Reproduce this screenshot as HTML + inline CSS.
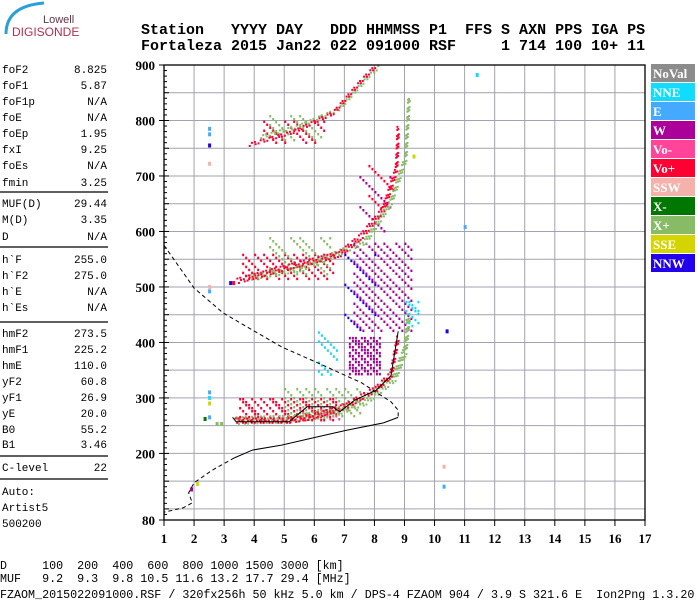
<!DOCTYPE html>
<html><head><meta charset="utf-8"><style>
html,body{margin:0;padding:0;background:#fff;}
svg{display:block;}
.mono{font-family:"Liberation Mono",monospace;}
.ser{font-family:"Liberation Serif",serif;font-weight:bold;}
</style></head><body>
<svg id="chart" width="700" height="600" viewBox="0 0 700 600" xmlns="http://www.w3.org/2000/svg">
<g>
<path d="M6 34 Q6 6 44 3" fill="none" stroke="#2a9fd8" stroke-width="3"/>
<text x="43" y="23" font-family="Liberation Sans,sans-serif" font-size="11" fill="#663344">Lowell</text>
<text x="12" y="36" font-family="Liberation Sans,sans-serif" font-size="12" fill="#b03050">DIGISONDE</text>
</g>
<g class="mono" font-size="15" font-weight="bold" fill="#000">
<text x="141" y="34" xml:space="preserve">Station   YYYY DAY   DDD HHMMSS P1  FFS S AXN PPS IGA PS</text>
<text x="141" y="50" xml:space="preserve">Fortaleza 2015 Jan22 022 091000 RSF     1 714 100 10+ 11</text>
</g>
<g id="panel" class="mono" font-size="11" fill="#000"></g>
<g id="plot"></g>
<g id="legend"></g>
<g class="mono" font-size="11.7" fill="#000">
<text x="0" y="569" xml:space="preserve">D     100  200  400  600  800 1000 1500 3000 [km]</text>
<text x="0" y="582" xml:space="preserve">MUF   9.2  9.3  9.8 10.5 11.6 13.2 17.7 29.4 [MHz]</text>
<text x="0" y="598" xml:space="preserve">FZAOM_2015022091000.RSF / 320fx256h 50 kHz 5.0 km / DPS-4 FZAOM 904 / 3.9 S 321.6 E  Ion2Png 1.3.20</text>
</g>
</svg>
<script>
const NS="http://www.w3.org/2000/svg";
// ---- data ----
const panelLabels=["foF2","foF1","foF1p","foE","foEp","fxI","foEs","fmin","MUF(D)","M(D)","D","h`F","h`F2","h`E","h`Es","hmF2","hmF1","hmE","yF2","yF1","yE","B0","B1","C-level"];
const panelValues=["8.825","5.87","N/A","N/A","1.95","9.25","N/A","3.25","29.44","3.35","N/A","255.0","275.0","N/A","N/A","273.5","225.2","110.0","60.8","26.9","20.0","55.2","3.46","22"];
const panelY=[69,85,101,117,133,149,165,182,203,219,236,259,275,291,307,333,349,365,381,397,413,429,444,467];
const xTicks=[1,2,3,4,5,6,7,8,9,10,11,12,13,14,15,16,17];
const yTickLabels=[80,200,300,400,500,600,700,800,900];
const legendNames=["NoVal","NNE","E","W","Vo-","Vo+","SSW","X-","X+","SSE","NNW"];
const legendColors=["#8c8c8c","#11dcff","#44aaff","#aa0099","#ff4499","#ff0033","#f5b2aa","#007700","#88bb66","#d4d400","#2200ee"];
const oTrace1=[[3.4,257],[5.16,257],[5.76,262],[6.61,275],[7.09,284],[7.58,300],[8.06,314],[8.55,340],[8.79,410]];
const xTrace1=[[3.46,255],[5.2,258],[6.6,268],[7.7,290],[8.67,332],[9.03,381],[9.15,446]];
const oTrace2=[[3.46,509],[5.28,536],[6.85,557],[7.58,590],[8.3,638],[8.73,710],[8.79,788]];
const xTrace2=[[3.9,515],[5.5,530],[6.61,555],[7.7,580],[8.55,651],[9.03,729],[9.15,842]];
const oTrace3=[[3.82,756],[5.28,779],[6.61,813],[7.58,873],[8.06,900]];
const xTrace3=[[4.2,770],[5.5,790],[6.8,820],[7.8,880],[8.2,900]];
const clusters=[
 [3.5,6.7,258,300,"Vo+",4],[5.0,7.5,265,318,"X+",3],[5.5,7.0,262,280,"Vo-",2],
 [7.0,8.0,420,560,"NNW",1],[7.15,8.18,345,410,"W",7],[7.3,9.27,420,580,"W",3],
 [6.12,6.73,340,420,"NNE",2],[9.03,9.52,430,475,"NNE",4],
 [3.6,6.6,512,560,"Vo+",3],[4.5,6.5,520,590,"X+",2],[4.3,6.3,760,800,"Vo+",2],[4.5,6.2,765,810,"X+",2],
 [7.5,8.5,600,700,"W",1],[7.8,8.6,640,720,"Vo+",1]
];
const isolated=[[2.5,775,"E"],[2.5,785,"E"],[2.5,755,"NNW"],[2.5,722,"SSW"],[2.5,492,"E"],[2.5,500,"SSW"],[2.5,300,"NNE"],[2.5,310,"E"],[2.5,290,"SSE"],[2.5,265,"E"],[2.35,262,"X-"],[2.75,253,"X+"],[2.9,253,"X+"],[11.4,882,"NNE"],[11.0,608,"E"],[10.4,420,"NNW"],[10.3,176,"SSW"],[10.3,140,"E"],[1.9,135,"W"],[2.1,145,"SSE"],[3.2,507,"NNW"],[3.3,507,"Vo+"],[9.3,735,"SSE"]];
const profileDashTop=[[1.0,575],[2.0,498],[2.97,453],[4.91,392],[6.12,363],[7.58,327],[8.55,293],[8.79,278],[8.79,265]];
const profileSolid=[[8.79,265],[8.3,255],[7.09,242],[6.12,230],[4.91,215],[3.94,206],[3.34,192]];
const profileDashBottom=[[3.34,192],[2.61,170],[2.0,147],[1.82,129],[1.94,111],[1.64,102],[1.0,94]];
const oFit=[[3.28,265],[3.4,257],[5.16,257],[5.76,284],[6.61,284],[6.85,275],[7.34,296],[8.06,314],[8.55,340],[8.79,420]];
// ---- scales ----
const L=164,R=645,T=65,B=520;
const X=f=>L+(f-1)*(R-L)/16;
const Y=h=>B-(h-80)*(B-T)/820;
const col=n=>legendColors[legendNames.indexOf(n)];
function mk(tag,attrs,parent){const e=document.createElementNS(NS,tag);for(const k in attrs)e.setAttribute(k,attrs[k]);parent.appendChild(e);return e;}
// panel
const panel=document.getElementById('panel');
panelLabels.forEach((lb,i)=>{
 const t=mk('text',{x:2,y:panelY[i]+4},panel);t.textContent=lb;
 
 
 const v=mk('text',{x:107,y:panelY[i]+4,'text-anchor':'end'},panel);v.textContent=panelValues[i];
 
 
});
[192,247,322,456,479].forEach(y=>{const l=mk('line',{x1:0,x2:108,y1:y,y2:y,stroke:'#000','stroke-width':1.3},panel);
 
 });
[["Auto:",491],["Artist5",507],["500200",523]].forEach(a=>{const t=mk('text',{x:2,y:a[1]+4},panel);t.textContent=a[0];
 
 });
// plot
const plot=document.getElementById('plot');
for(let h=100;h<900;h+=50){const l=mk('line',{x1:L,x2:R,y1:Y(h),y2:Y(h),stroke:'#a2a2b0','stroke-width':1},plot);
 
 }
for(let f=2;f<17;f++){const l=mk('line',{x1:X(f),x2:X(f),y1:T,y2:B,stroke:'#a2a2b0','stroke-width':1},plot);
 
 }
const marks=mk('g',{},plot);


function dot(x,y,c,w,h){mk('rect',{x:x,y:y,width:w||2,height:h||2,fill:c},marks);}
function trace(pts,c,thick){
 for(let i=0;i<pts.length-1;i++){
  const x1=X(pts[i][0]),y1=Y(pts[i][1]),x2=X(pts[i+1][0]),y2=Y(pts[i+1][1]);
  const len=Math.hypot(x2-x1,y2-y1),n=Math.max(1,Math.round(len/3));
  for(let s=0;s<n;s++){const x=x1+(x2-x1)*s/n,y=y1+(y2-y1)*s/n;
   for(let k=0;k<thick;k++){if((s+k)%3===1)continue;dot(x-k*0.8,y-k*2.2,c,2,2);}}
 }
}
function cluster(c){
 const x1=X(c[0]),x2=X(c[1]),y1=Y(c[3]),y2=Y(c[2]),cc=col(c[4]),d=c[5];
 let r=0;for(let y=y1;y<y2;y+=3,r++){let q=0;for(let x=x1;x<x2;x+=3,q++){if((r*7+q*13)%10<d)dot(x,y,cc,2,2.5);}}
}
clusters.forEach(cluster);
trace(xTrace1,col("X+"),4);trace(oTrace1,col("Vo+"),3);
trace(xTrace2,col("X+"),3);trace(oTrace2,col("Vo+"),3);
trace(xTrace3,col("X+"),2);trace(oTrace3,col("Vo+"),2);
isolated.forEach(p=>dot(X(p[0])-1,Y(p[1])-2,col(p[2]),3,4));
const line=(pts,dash,name)=>{const p=mk('polyline',{points:pts.map(q=>X(q[0])+','+Y(q[1])).join(' '),fill:'none',stroke:'#000','stroke-width':1,'stroke-dasharray':dash||'none'},plot);
 
 };
line(profileDashTop,'4,3','profile-dashed-upper');
line(profileSolid,null,'profile-solid');
line(profileDashBottom,'4,3','profile-dashed-lower');
line(oFit,null,'o-trace-fit');
const fr=mk('rect',{x:L,y:T,width:R-L,height:B-T,fill:'none',stroke:'#000','stroke-width':1.3},plot);


for(let h=80;h<=900;h+=10){const t=mk('line',{x1:L,x2:L+(h%50===0?5:3),y1:Y(h),y2:Y(h),stroke:'#000'},plot);
 
 }
yTickLabels.forEach(v=>{mk('line',{x1:L-5,x2:L,y1:Y(v),y2:Y(v),stroke:'#000'},plot);
 const t=mk('text',{x:L-9,y:Y(v)+5,'text-anchor':'end','font-size':13,class:'ser'},plot);t.textContent=v;
 
 });
xTicks.forEach(v=>{mk('line',{x1:X(v),x2:X(v),y1:B,y2:B+6,stroke:'#000'},plot);
 const t=mk('text',{x:X(v),y:543,'text-anchor':'middle','font-size':13,class:'ser'},plot);t.textContent=v;
 
 });
// legend
const lg=document.getElementById('legend');
legendNames.forEach((n,i)=>{const y=64+i*19;
 const r=mk('rect',{x:651,y:y,width:44,height:18,fill:legendColors[i]},lg);
 
 
 const t=mk('text',{x:653,y:y+14,fill:'#fff','font-size':13,class:'ser'},lg);t.textContent=n;
 
 });
</script>
</body></html>
